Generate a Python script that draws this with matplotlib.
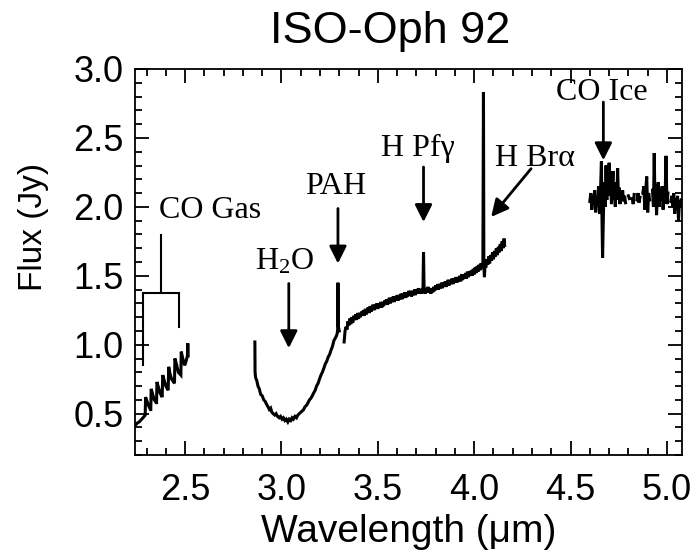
import numpy as np
import matplotlib
matplotlib.use("Agg")
import matplotlib.pyplot as plt
from matplotlib.ticker import MultipleLocator

# ---- data (wavelength in um, flux in Jy) ----
co_gas_wl = [2.240, 2.250, 2.262, 2.275, 2.288, 2.293, 2.295, 2.300, 2.310, 2.320,
             2.322, 2.324, 2.330, 2.340, 2.350, 2.352, 2.354, 2.360, 2.370, 2.381,
             2.384, 2.390, 2.400, 2.412, 2.415, 2.420, 2.430, 2.445, 2.447, 2.455,
             2.465, 2.478, 2.480, 2.488, 2.498, 2.505, 2.512, 2.514, 2.516]
co_gas_flux = [0.41, 0.43, 0.44, 0.46, 0.48, 0.49, 0.62, 0.60, 0.56, 0.53,
               0.53, 0.68, 0.65, 0.60, 0.58, 0.58, 0.73, 0.70, 0.65, 0.62,
               0.78, 0.75, 0.70, 0.67, 0.84, 0.80, 0.75, 0.72, 0.90, 0.86,
               0.80, 0.78, 0.95, 0.90, 0.85, 0.88, 0.92, 1.01, 0.92]

h2o_wl = [2.862, 2.863, 2.866, 2.872, 2.878, 2.885, 2.892, 2.900, 2.908, 2.915,
          2.922, 2.930, 2.937, 2.944, 2.950, 2.957, 2.965, 2.972, 2.980, 2.988,
          2.995, 3.003, 3.010, 3.018, 3.025, 3.033, 3.040, 3.048, 3.055, 3.062,
          3.070, 3.078, 3.085, 3.092, 3.100, 3.108, 3.115, 3.122, 3.130, 3.138,
          3.145, 3.152, 3.160, 3.167, 3.175, 3.182, 3.190, 3.197, 3.205, 3.212,
          3.220, 3.227, 3.235, 3.242, 3.250, 3.257, 3.265, 3.272, 3.280, 3.287,
          3.290, 3.292, 3.293, 3.295, 3.300]
h2o_flux = [1.02, 0.80, 0.76, 0.74, 0.70, 0.68, 0.64, 0.63, 0.60, 0.59,
            0.57, 0.55, 0.53, 0.54, 0.51, 0.50, 0.49, 0.50, 0.48, 0.47,
            0.48, 0.46, 0.47, 0.45, 0.46, 0.44, 0.46, 0.45, 0.47, 0.46,
            0.48, 0.47, 0.49, 0.50, 0.51, 0.52, 0.53, 0.55, 0.56, 0.58,
            0.60, 0.61, 0.63, 0.65, 0.67, 0.70, 0.72, 0.75, 0.78, 0.80,
            0.83, 0.86, 0.88, 0.91, 0.93, 0.96, 0.99, 1.03, 1.05, 1.07,
            1.09, 1.12, 1.45, 1.13, 1.10]

cont_wl = [3.325, 3.330, 3.335, 3.340, 3.345, 3.350, 3.355, 3.360, 3.365, 3.370,
           3.375, 3.380, 3.385, 3.390, 3.395, 3.400, 3.405, 3.410, 3.415, 3.420,
           3.425, 3.430, 3.435, 3.440, 3.445, 3.450, 3.455, 3.460, 3.465, 3.470,
           3.475, 3.480, 3.485, 3.490, 3.495, 3.500, 3.505, 3.510, 3.515, 3.520,
           3.525, 3.530, 3.535, 3.540, 3.545, 3.550, 3.555, 3.560, 3.565, 3.570,
           3.575, 3.580, 3.585, 3.590, 3.595, 3.600, 3.605, 3.610, 3.615, 3.620,
           3.625, 3.630, 3.635, 3.640, 3.645, 3.650, 3.655, 3.660, 3.665, 3.670,
           3.675, 3.680, 3.685, 3.690, 3.695, 3.700, 3.705, 3.710, 3.715, 3.720,
           3.725, 3.730, 3.734, 3.737, 3.740, 3.745, 3.750, 3.755, 3.760, 3.765,
           3.770, 3.775, 3.780, 3.785, 3.790, 3.795, 3.800, 3.805, 3.810, 3.815,
           3.820, 3.825, 3.830, 3.835, 3.840, 3.845, 3.850, 3.855, 3.860, 3.865,
           3.870, 3.875, 3.880, 3.885, 3.890, 3.895, 3.900, 3.905, 3.910, 3.915,
           3.920, 3.925, 3.930, 3.935, 3.940, 3.945, 3.950, 3.955, 3.960, 3.965,
           3.970, 3.975, 3.980, 3.985, 3.990, 3.995, 4.000, 4.005, 4.010, 4.015,
           4.020, 4.025, 4.030, 4.035, 4.040, 4.045, 4.048, 4.050, 4.053, 4.057,
           4.060, 4.065, 4.070, 4.075, 4.080, 4.085, 4.090, 4.095, 4.100, 4.105,
           4.110, 4.115, 4.120, 4.125, 4.130, 4.135, 4.140, 4.145, 4.150, 4.155,
           4.158]
cont_flux = [1.02, 1.10, 1.13, 1.11, 1.17, 1.14, 1.19, 1.15, 1.20, 1.16,
             1.21, 1.18, 1.22, 1.18, 1.23, 1.19, 1.23, 1.20, 1.24, 1.21,
             1.25, 1.21, 1.26, 1.22, 1.25, 1.27, 1.23, 1.28, 1.24, 1.27,
             1.29, 1.25, 1.29, 1.26, 1.30, 1.26, 1.30, 1.27, 1.31, 1.27,
             1.31, 1.28, 1.32, 1.29, 1.33, 1.29, 1.32, 1.34, 1.30, 1.34,
             1.31, 1.35, 1.31, 1.35, 1.32, 1.36, 1.32, 1.36, 1.33, 1.37,
             1.33, 1.37, 1.34, 1.38, 1.34, 1.38, 1.35, 1.39, 1.36, 1.39,
             1.35, 1.39, 1.36, 1.40, 1.36, 1.40, 1.37, 1.41, 1.37, 1.40,
             1.37, 1.41, 1.39, 1.67, 1.40, 1.37, 1.41, 1.38, 1.42, 1.38,
             1.41, 1.37, 1.41, 1.38, 1.42, 1.39, 1.43, 1.40, 1.44, 1.40,
             1.44, 1.41, 1.45, 1.41, 1.45, 1.42, 1.46, 1.42, 1.45, 1.47,
             1.43, 1.47, 1.44, 1.48, 1.44, 1.48, 1.45, 1.49, 1.45, 1.49,
             1.46, 1.50, 1.46, 1.51, 1.47, 1.51, 1.48, 1.52, 1.48, 1.53,
             1.49, 1.53, 1.50, 1.54, 1.50, 1.55, 1.51, 1.56, 1.52, 1.57,
             1.53, 1.58, 1.54, 1.59, 1.55, 1.60, 2.83, 1.58, 1.49, 1.61,
             1.56, 1.62, 1.58, 1.64, 1.59, 1.65, 1.61, 1.67, 1.62, 1.68,
             1.64, 1.70, 1.65, 1.71, 1.67, 1.73, 1.68, 1.75, 1.70, 1.77,
             1.72]

ice_wl = [4.600, 4.605, 4.610, 4.615, 4.620, 4.625, 4.630, 4.635, 4.640, 4.645,
          4.650, 4.655, 4.660, 4.663, 4.666, 4.669, 4.672, 4.676, 4.680, 4.684,
          4.688, 4.692, 4.696, 4.700, 4.704, 4.708, 4.712, 4.716, 4.720, 4.724,
          4.728, 4.732, 4.736, 4.740, 4.744, 4.748, 4.752, 4.756, 4.760, 4.765,
          4.770, 4.775, 4.780, 4.785, 4.790, 4.800, 4.805, 4.810, 4.820, 4.825,
          4.830, 4.835, 4.845, 4.850, 4.855, 4.860, 4.865, 4.875, 4.880, 4.885,
          4.890, 4.895, 4.900, 4.905, 4.910, 4.915, 4.925, 4.930, 4.934, 4.938,
          4.942, 4.946, 4.950, 4.955, 4.960, 4.965, 4.970, 4.975, 4.980, 4.985,
          4.990, 4.995, 5.000, 5.005, 5.010, 5.020, 5.025, 5.030, 5.035, 5.040,
          5.045, 5.050, 5.055, 5.060, 5.065, 5.070, 5.075, 5.080]
ice_flux = [2.04, 2.10, 1.98, 2.08, 2.02, 2.12, 1.96, 2.06, 2.00, 2.15,
            1.95, 2.10, 2.33, 1.90, 1.63, 1.85, 2.05, 2.18, 2.00, 2.30,
            2.05, 2.25, 2.08, 2.32, 2.10, 2.20, 2.02, 2.15, 2.26, 2.05,
            2.12, 2.00, 2.18, 2.05, 2.28, 2.08, 2.14, 2.02, 2.10, 2.06,
            2.12, 2.04, 2.08, 2.03, np.nan, 2.08, 2.06, np.nan, 2.06, 2.02,
            2.09, np.nan, 2.05, 2.10, 2.03, 2.07, np.nan, 2.10, 2.15, 1.98,
            2.12, 2.22, 1.96, 2.10, 2.05, np.nan, 2.12, 2.00, 2.39, 2.02,
            2.16, 1.94, 2.08, 2.18, 2.00, 2.12, 2.05, 2.15, 1.98, 2.10,
            2.04, 2.37, 2.02, 2.10, np.nan, 2.04, 2.08, 2.00, 2.10, 1.95,
            2.06, 2.02, 2.08, 1.90, 2.05, 2.00, 2.06, 2.03]

x_ticks = [2.5, 3.0, 3.5, 4.0, 4.5, 5.0]
y_ticks = [0.5, 1.0, 1.5, 2.0, 2.5, 3.0]

sans = ["Liberation Sans", "DejaVu Sans"]
serif = ["Liberation Serif", "DejaVu Serif"]
plt.rcParams["mathtext.fontset"] = "custom"
plt.rcParams["mathtext.rm"] = "Liberation Serif"
plt.rcParams["mathtext.it"] = "Liberation Serif:italic"

fig = plt.figure(figsize=(6.94, 5.52), dpi=100)
ax = fig.add_axes([0.1945, 0.1757, 0.7882, 0.6993])

for wl, fl in [(co_gas_wl, co_gas_flux), (h2o_wl, h2o_flux),
               (cont_wl, cont_flux), (ice_wl, ice_flux)]:
    ax.plot(wl, fl, color="black", lw=2.2, solid_joinstyle="miter")

ax.set_xlim(2.24, 5.078)
ax.set_ylim(0.2, 3.0)
ax.set_xticks(x_ticks)
ax.set_yticks(y_ticks)
ax.set_xticklabels([f"{v:.1f}" for v in x_ticks], family=sans)
ax.set_yticklabels([f"{v:.1f}" for v in y_ticks], family=sans)
ax.xaxis.set_minor_locator(MultipleLocator(0.1))
ax.yaxis.set_minor_locator(MultipleLocator(0.1))
ax.tick_params(which="both", direction="in", top=True, right=True, width=1.3,
               labelsize=26, colors="black")
ax.tick_params(axis="x", pad=13)
ax.tick_params(axis="y", pad=8)
ax.tick_params(which="major", length=10)
ax.tick_params(which="minor", length=5)
for s in ax.spines.values():
    s.set_linewidth(1.3)

ax.set_xlabel("Wavelength (\u03bcm)", family=sans, fontsize=28, labelpad=4)
ax.set_ylabel("Flux (Jy)", family=sans, fontsize=24)
ax.yaxis.set_label_coords(-0.158, 0.59)
ax.text(0.466, 1.045, "ISO-Oph 92", transform=ax.transAxes, family=sans,
        fontsize=32.5, ha="center", va="bottom")

arrow = dict(arrowstyle="-|>", color="black", lw=2.0, mutation_scale=26,
             shrinkA=0, shrinkB=0)
ann_fs = 23

# CO gas bracket
ax.text(2.629, 1.975, "CO Gas", family=serif, fontsize=ann_fs, ha="center", va="center")
ax.plot([2.375, 2.375], [1.794, 1.374], color="black", lw=1.5)
ax.plot([2.281, 2.468], [1.374, 1.374], color="black", lw=1.5)
ax.plot([2.281, 2.281], [1.374, 0.852], color="black", lw=1.5)
ax.plot([2.468, 2.468], [1.374, 1.128], color="black", lw=1.5)

# H2O
ax.text(3.017, 1.60, r"H$_\mathrm{2}$O", family=serif, fontsize=ann_fs, ha="center", va="center")
ax.annotate("", xy=(3.038, 0.975), xytext=(3.038, 1.444), arrowprops=arrow)

# PAH
ax.text(3.281, 2.149, "PAH", family=serif, fontsize=ann_fs, ha="center", va="center")
ax.annotate("", xy=(3.293, 1.589), xytext=(3.293, 1.988), arrowprops=arrow)

# H Pf gamma
ax.text(3.707, 2.42, "H Pf\u03b3", family=serif, fontsize=ann_fs, ha="center", va="center")
ax.annotate("", xy=(3.737, 1.89), xytext=(3.737, 2.289), arrowprops=arrow)

# H Br alpha
ax.text(4.313, 2.35, "H Br\u03b1", family=serif, fontsize=ann_fs, ha="center", va="center")
ax.annotate("", xy=(4.088, 1.927), xytext=(4.295, 2.277), arrowprops=arrow)

# CO ice
ax.text(4.662, 2.83, "CO Ice", family=serif, fontsize=ann_fs, ha="center", va="center")
ax.annotate("", xy=(4.67, 2.338), xytext=(4.67, 2.76), arrowprops=arrow)

fig.savefig("out.png", dpi=100)
